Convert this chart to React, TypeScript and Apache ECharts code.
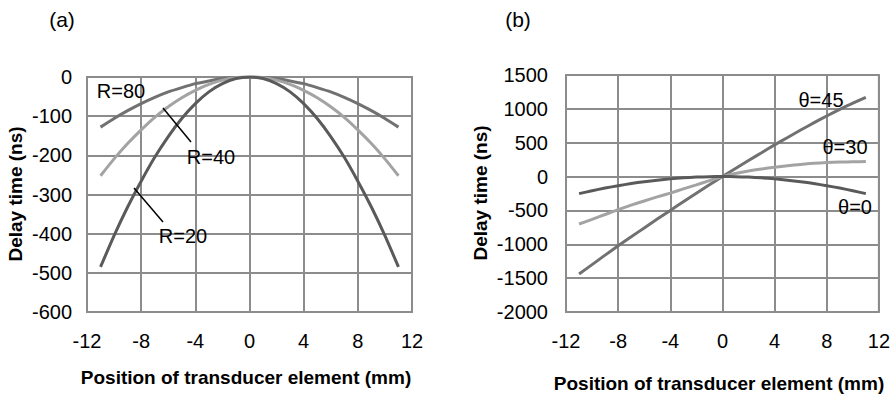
import React, { useEffect, useRef } from "react";
import * as echarts from "echarts";

const positions = [-11, -10, -9, -8, -7, -6, -5, -4, -3, -2, -1, 0, 1, 2, 3, 4, 5, 6, 7, 8, 9, 10, 11];

// (a) focused delay (ns)
const r20 = [-485, -405, -332, -266, -205, -152, -106, -68, -38, -17, -4, 0, -4, -17, -38, -68, -106, -152, -205, -266, -332, -405, -485];
const r40 = [-252, -209, -170, -135, -103, -76, -53, -34, -19, -8, -2, 0, -2, -8, -19, -34, -53, -76, -103, -135, -170, -209, -252];
const r80 = [-128, -106, -86, -68, -52, -38, -27, -17, -10, -4, -1, 0, -1, -4, -10, -17, -27, -38, -52, -68, -86, -106, -128];

// (b) steered delay (ns)
const t45 = [-1440, -1300, -1160, -1022, -890, -758, -628, -500, -372, -246, -122, 0, 120, 238, 352, 468, 578, 688, 792, 895, 992, 1085, 1170];
const t30 = [-700, -632, -560, -488, -422, -360, -300, -244, -182, -122, -60, 0, 45, 82, 112, 138, 160, 180, 195, 206, 214, 219, 222];
const t0 = [-252, -209, -170, -135, -103, -76, -53, -34, -19, -8, -2, 0, -2, -8, -19, -34, -53, -76, -103, -135, -170, -209, -252];

const xTicks = [-12, 12, 4];
const yTicksA = [-600, 0, 100];
const yTicksB = [-2000, 1500, 500];

const FONT = "Liberation Sans, Arial, sans-serif";
const GRID_COLOR = "#8c8c8c";
const DARK = "#5a5a5a";
const MID = "#717171";
const LIGHT = "#a3a3a3";

const pairs = (ys: number[]) => positions.map((x, i) => [x, ys[i]]);

export default function App() {
  const ref = useRef<HTMLDivElement>(null);
  useEffect(() => {
    if (!ref.current) return;
    const chart = echarts.init(ref.current, undefined, { renderer: "svg" });
    const labelStyle = (margin: number) => ({
      fontSize: 20,
      color: "#000",
      fontFamily: FONT,
      margin,
      formatter: (v: number) => String(v),
    });
    const xAxisBase = (gridIndex: number) => ({
      type: "value" as const,
      gridIndex,
      min: xTicks[0],
      max: xTicks[1],
      interval: xTicks[2],
      axisLine: { show: false },
      axisTick: { show: false },
      axisLabel: labelStyle(19),
      splitLine: { show: true, lineStyle: { color: GRID_COLOR, width: 2 } },
    });
    const yAxisBase = (gridIndex: number, t: number[], margin: number) => ({
      type: "value" as const,
      gridIndex,
      min: t[0],
      max: t[1],
      interval: t[2],
      axisLine: { show: false },
      axisTick: { show: false },
      axisLabel: labelStyle(margin),
      splitLine: { show: true, lineStyle: { color: GRID_COLOR, width: 2 } },
    });
    const line = (name: string, data: number[][], color: string, idx: number) => ({
      name,
      type: "line" as const,
      xAxisIndex: idx,
      yAxisIndex: idx,
      data,
      showSymbol: false,
      symbol: "none",
      smooth: 0.2,
      lineStyle: { color, width: 3 },
      z: 3,
    });
    const txt = (text: string, x: number, y: number, extra: any = {}) => ({
      type: "text",
      x,
      y,
      z: 10,
      style: {
        text,
        fill: "#000",
        font: `20px ${FONT}`,
        align: "center",
        verticalAlign: "middle",
        ...extra,
      },
    });
    chart.setOption({
      animation: false,
      grid: [
        { left: 87, right: 481, top: 77, bottom: 82, show: true, borderColor: GRID_COLOR, borderWidth: 2, backgroundColor: "transparent" },
        { left: 566, right: 13, top: 75, bottom: 82, show: true, borderColor: GRID_COLOR, borderWidth: 2, backgroundColor: "transparent" },
      ],
      xAxis: [xAxisBase(0), xAxisBase(1)],
      yAxis: [yAxisBase(0, yTicksA, 15), yAxisBase(1, yTicksB, 18)],
      series: [
        line("R=80", pairs(r80), MID, 0),
        line("R=40", pairs(r40), LIGHT, 0),
        line("R=20", pairs(r20), DARK, 0),
        line("θ=45", pairs(t45), MID, 1),
        line("θ=30", pairs(t30), LIGHT, 1),
        line("θ=0", pairs(t0), DARK, 1),
      ],
      graphic: [
        txt("(a)", 62, 19, { font: `21px ${FONT}` }),
        txt("(b)", 518, 19, { font: `21px ${FONT}` }),
        txt("Position of transducer element (mm)", 246, 377, { font: `bold 19px ${FONT}` }),
        txt("Position of transducer element (mm)", 719, 383, { font: `bold 19px ${FONT}` }),
        { ...txt("Delay time (ns)", 15, 194, { font: `bold 19px ${FONT}` }), rotation: Math.PI / 2 },
        { ...txt("Delay time (ns)", 480, 193, { font: `bold 19px ${FONT}` }), rotation: Math.PI / 2 },
        txt("R=80", 121, 91),
        txt("R=40", 211, 157),
        txt("R=20", 183, 236),
        txt("θ=45", 821, 100),
        txt("θ=30", 845, 147),
        txt("θ=0", 855, 207),
        { type: "line", z: 10, shape: { x1: 163, y1: 108, x2: 191, y2: 142 }, style: { stroke: "#000", lineWidth: 1.5 } },
        { type: "line", z: 10, shape: { x1: 134, y1: 188, x2: 163, y2: 222 }, style: { stroke: "#000", lineWidth: 1.5 } },
      ],
    });
    return () => chart.dispose();
  }, []);
  return <div ref={ref} style={{ width: 893, height: 394, position: "absolute", left: 0, top: 0 }} />;
}
